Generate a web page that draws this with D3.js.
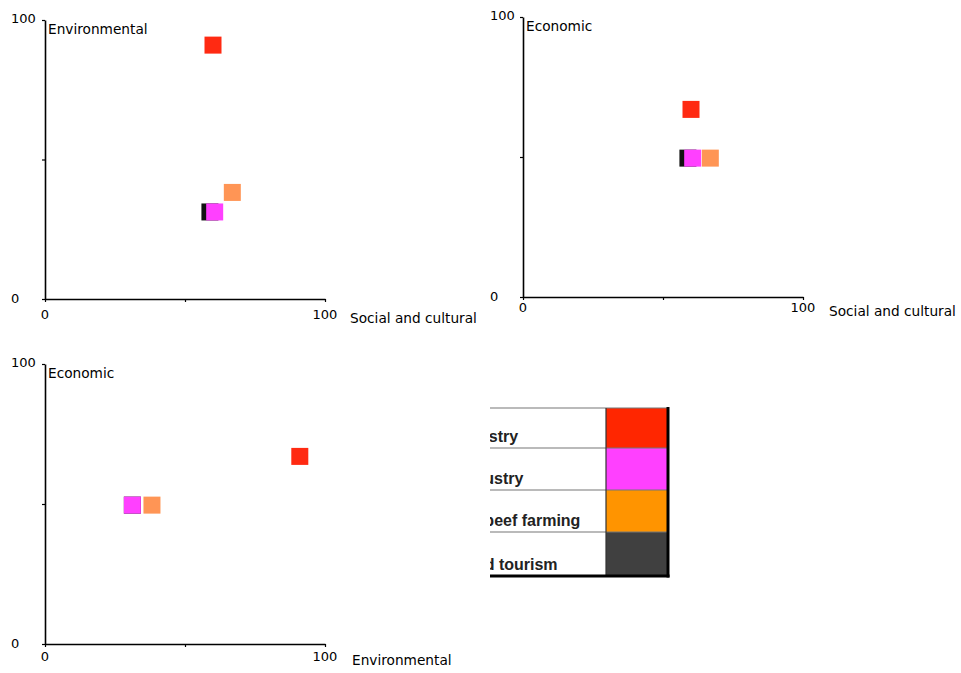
<!DOCTYPE html>
<html>
<head>
<meta charset="utf-8">
<script src="https://cdn.jsdelivr.net/npm/d3@7"></script>
<style>
  html, body { margin: 0; padding: 0; background: #fff; }
  svg { display: block; }
</style>
</head>
<body>
<svg id="chart" width="961" height="673"></svg>
<script>
// ---------------- data ----------------
const seriesNames = ["Mining industry", "Fishing industry", "Sheep and beef farming", "Water-based tourism"];
const markerColors = ["#FF2A12", "#FF40FF", "#FF9555", "#111111"];
const legendColors = ["#FF2600", "#FF40FF", "#FF9400", "#404040"];
const socialCultural = [60.0, 60.6, 66.9, 58.9];
const environmental = [91.0, 31.2, 38.2, 31.2];
const economic     = [67.0, 49.6, 49.6, 49.6];
const tickValues = [0, 50, 100];
const tickLabels = ["0", "100"];
const drawOrder = [3, 0, 1, 2];

// ---------------- layout ----------------
const panels = [
  { x: socialCultural, y: environmental, xTitle: "Social and cultural", yTitle: "Environmental",
    left: 45, right: 325, top: 20, bottom: 299, labelX: 11, gap: 9, titleX: 350 },
  { x: socialCultural, y: economic, xTitle: "Social and cultural", yTitle: "Economic",
    left: 523, right: 803, top: 17, bottom: 297, labelX: 490, gap: 4, titleX: 829 },
  { x: environmental, y: economic, xTitle: "Environmental", yTitle: "Economic",
    left: 45, right: 325, top: 364, bottom: 644, labelX: 11, gap: 6, titleX: 352 }
];

const svg = d3.select("#chart");
const font = "DejaVu Sans, sans-serif";
const ms = 17;

panels.forEach(p => {
  const xs = d3.scaleLinear().domain([0, 100]).range([p.left, p.right]);
  const ys = d3.scaleLinear().domain([0, 100]).range([p.bottom, p.top]);
  const g = svg.append("g");

  const xa = g.append("g").attr("transform", `translate(0,${p.bottom})`)
    .call(d3.axisBottom(xs).tickValues(tickValues).tickFormat("").tickSize(3).tickSizeOuter(0));
  const ya = g.append("g").attr("transform", `translate(${p.left},0)`)
    .call(d3.axisLeft(ys).tickValues(tickValues).tickFormat("").tickSize(3).tickSizeOuter(0));
  [xa, ya].forEach(a => {
    a.select(".domain").attr("stroke", "#000").attr("stroke-width", 1.6);
    a.selectAll(".tick line").attr("stroke", "#000").attr("stroke-width", 1.2);
  });

  g.selectAll(".xl").data([0, 100]).join("text")
    .attr("x", d => xs(d)).attr("y", p.bottom + p.gap + 10.5)
    .attr("text-anchor", "middle").attr("font-family", font).attr("font-size", 13)
    .attr("fill", "#000").text((d, i) => tickLabels[i]);
  g.selectAll(".yl").data([0, 100]).join("text")
    .attr("x", p.labelX).attr("y", d => ys(d) + (d === 100 ? -2 : -1))
    .attr("dominant-baseline", "central")
    .attr("font-family", font).attr("font-size", 13)
    .attr("fill", "#000").text((d, i) => tickLabels[i]);

  g.append("text").attr("x", p.titleX).attr("y", p.bottom + p.gap + 15)
    .attr("font-family", font).attr("font-size", 13.7).attr("fill", "#000").text(p.xTitle);
  g.append("text").attr("x", p.left + 3).attr("y", p.top + 14)
    .attr("font-family", font).attr("font-size", 13.7).attr("fill", "#000").text(p.yTitle);

  g.selectAll("rect.m").data(drawOrder).join("rect")
    .attr("x", i => xs(p.x[i]) - ms / 2)
    .attr("y", i => ys(p.y[i]) - ms / 2)
    .attr("width", ms).attr("height", ms)
    .attr("fill", i => markerColors[i]);
});

// ---------------- legend table ----------------
const legLeft = 490, legRight = 668, colX = 606;
const rowTops = [408, 448, 490, 532, 576];
const lg = svg.append("g");
svg.append("clipPath").attr("id", "legclip").append("rect")
  .attr("x", legLeft).attr("y", 400).attr("width", 200).attr("height", 200);

const rowScale = d3.scaleOrdinal().domain(d3.range(4)).range(rowTops.slice(0, 4));

lg.selectAll("rect.c").data(d3.range(4)).join("rect")
  .attr("x", colX).attr("y", i => rowScale(i))
  .attr("width", legRight - colX).attr("height", i => rowTops[i + 1] - rowTops[i])
  .attr("fill", i => legendColors[i]);

lg.selectAll("line.sep").data(rowTops.slice(0, 4)).join("line")
  .attr("x1", legLeft).attr("x2", legRight).attr("y1", d => d).attr("y2", d => d)
  .attr("stroke", "#777").attr("stroke-width", 1.2);
lg.append("line").attr("x1", colX).attr("x2", colX).attr("y1", rowTops[0]).attr("y2", rowTops[4])
  .attr("stroke", "#333").attr("stroke-width", 1.2);
lg.append("line").attr("x1", legRight).attr("x2", legRight).attr("y1", rowTops[0] - 1).attr("y2", rowTops[4] + 1.5)
  .attr("stroke", "#000").attr("stroke-width", 3);
lg.append("line").attr("x1", legLeft).attr("x2", legRight + 1.5).attr("y1", rowTops[4]).attr("y2", rowTops[4])
  .attr("stroke", "#000").attr("stroke-width", 3);

lg.append("g").attr("clip-path", "url(#legclip)")
  .selectAll("text").data(d3.range(4)).join("text")
  .attr("x", 399).attr("y", i => rowTops[i + 1] - 6)
  .attr("font-family", "Liberation Sans, Arial, sans-serif").attr("font-weight", "bold")
  .attr("font-size", 16).attr("fill", "#222")
  .text(i => seriesNames[i]);
</script>
</body>
</html>
